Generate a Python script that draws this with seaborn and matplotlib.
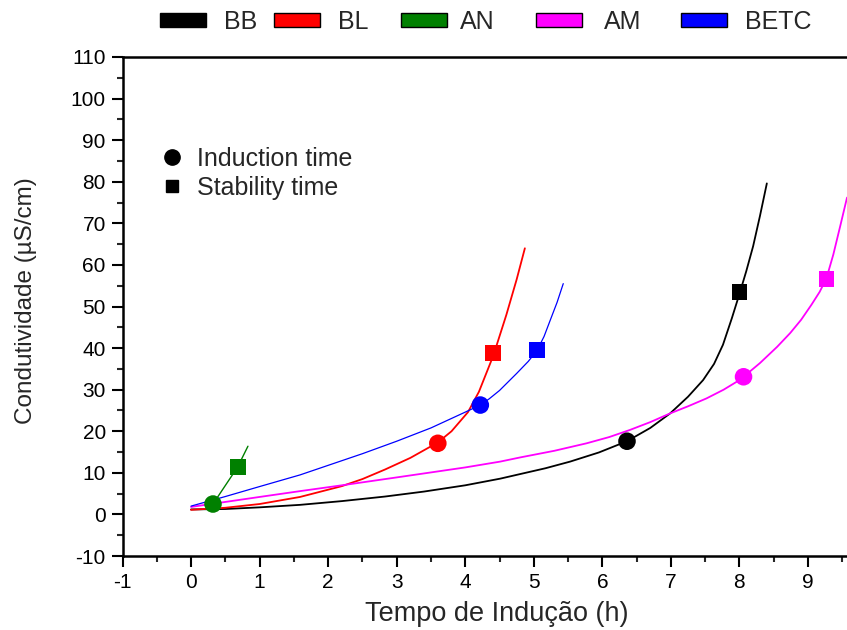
import matplotlib
matplotlib.use("Agg")
import matplotlib.pyplot as plt
import seaborn as sns
import pandas as pd
from matplotlib.patches import Patch
from matplotlib.lines import Line2D
from matplotlib.ticker import MultipleLocator

# ---- data ----
series_names = ["BB", "BL", "AN", "AM", "BETC"]
series_colors = ["#000000", "#ff0000", "#008000", "#ff00ff", "#0000ff"]

bb_x = [0.0, 0.5, 1.0, 1.59, 2.2, 2.83, 3.4, 4.0, 4.51, 4.8, 5.17, 5.53, 5.95, 6.36, 6.7, 6.99,
        7.25, 7.47, 7.63, 7.76, 7.89, 8.0, 8.1, 8.2, 8.3, 8.4]
bb_y = [1.2, 1.3, 1.7, 2.3, 3.2, 4.3, 5.5, 7.0, 8.6, 9.7, 11.1, 12.7, 14.9, 17.6, 20.8, 24.3,
        28.3, 32.3, 36.2, 40.8, 47.2, 53.0, 58.5, 64.5, 71.8, 79.6]

bl_x = [0.0, 0.5, 1.0, 1.59, 2.2, 2.5, 2.83, 3.2, 3.6, 3.8, 4.04, 4.2, 4.41, 4.6, 4.75, 4.87]
bl_y = [1.1, 1.6, 2.5, 4.2, 6.8, 8.5, 10.8, 13.6, 17.3, 20.0, 24.6, 29.5, 38.2, 48.0, 56.5, 64.0]

an_x = [0.32, 0.68, 0.83]
an_y = [2.5, 11.4, 16.4]

am_x = [0.0, 0.5, 1.0, 1.59, 2.2, 3.0, 4.0, 4.51, 4.8, 5.3, 5.77, 6.1, 6.4, 6.7, 6.99, 7.25,
        7.52, 7.77, 8.01, 8.3, 8.55, 8.74, 8.9, 9.05, 9.17, 9.27, 9.37, 9.47, 9.57]
am_y = [1.8, 3.0, 4.2, 5.6, 7.0, 8.9, 11.3, 12.7, 13.7, 15.3, 17.1, 18.6, 20.3, 22.2, 24.3, 26.0,
        27.9, 30.0, 32.4, 36.4, 40.3, 43.6, 46.8, 50.4, 53.5, 56.8, 62.5, 69.3, 76.2]

betc_x = [0.0, 0.5, 1.0, 1.59, 2.0, 2.5, 3.0, 3.5, 4.0, 4.22, 4.35, 4.5, 4.75, 4.92, 5.05, 5.15,
          5.24, 5.34, 5.43]
betc_y = [2.0, 4.3, 6.7, 9.5, 11.8, 14.6, 17.6, 20.8, 24.6, 26.3, 27.8, 29.8, 33.9, 36.8, 39.5,
          42.8, 46.7, 51.0, 55.5]

# induction (circle) and stability (square) points
induction_x = [6.36, 3.6, 0.32, 8.06, 4.22]
induction_y = [17.6, 17.1, 2.5, 33.1, 26.3]
stability_x = [8.0, 4.41, 0.68, 9.27, 5.05]
stability_y = [53.5, 38.9, 11.4, 56.6, 39.5]

x_ticks = list(range(-1, 10))
y_ticks = list(range(-10, 111, 10))

# ---- build tables ----
curves = pd.concat([
    pd.DataFrame({"x": bb_x, "y": bb_y, "s": "BB"}),
    pd.DataFrame({"x": bl_x, "y": bl_y, "s": "BL"}),
    pd.DataFrame({"x": an_x, "y": an_y, "s": "AN"}),
    pd.DataFrame({"x": am_x, "y": am_y, "s": "AM"}),
    pd.DataFrame({"x": betc_x, "y": betc_y, "s": "BETC"}),
], ignore_index=True)
ind = pd.DataFrame({"x": induction_x, "y": induction_y, "s": series_names})
stab = pd.DataFrame({"x": stability_x, "y": stability_y, "s": series_names})
palette = dict(zip(series_names, series_colors))
widths = {"BB": 1.3, "BL": 1.3, "AN": 1.0, "AM": 1.3, "BETC": 0.9}

sns.set_theme(style="white")
plt.rcParams["font.family"] = ["Liberation Sans", "DejaVu Sans"]
plt.rcParams["axes.unicode_minus"] = False

W, H = 847, 630
AX_L, AX_R, AX_T, AX_B = 122.5, 870.0, 57, 556
fig = plt.figure(figsize=(W / 100, H / 100), dpi=100)
ax = fig.add_axes([AX_L / W, (H - AX_B) / H, (AX_R - AX_L) / W, (AX_B - AX_T) / H])

for name in series_names:
    sub = curves[curves["s"] == name]
    sns.lineplot(data=sub, x="x", y="y", color=palette[name], sort=False,
                 estimator=None, lw=widths[name], ax=ax, legend=False)

sns.scatterplot(data=ind, x="x", y="y", hue="s", palette=palette, marker="o",
                s=160, linewidth=0, ax=ax, legend=False, zorder=5)
sns.scatterplot(data=stab, x="x", y="y", hue="s", palette=palette, marker="s",
                s=130, linewidth=0, ax=ax, legend=False, zorder=5)

ax.set_xlim(-1, 9.905)
ax.set_ylim(-10, 110)
ax.set_xticks(x_ticks)
ax.set_yticks(y_ticks)
ax.xaxis.set_minor_locator(MultipleLocator(0.5))
ax.yaxis.set_minor_locator(MultipleLocator(5))
ax.tick_params(which="major", direction="out", length=8, width=1.5,
               labelsize=15, colors="black", left=True, bottom=True, pad=4)
ax.tick_params(which="minor", direction="out", length=4, width=1.5,
               left=True, bottom=True)
for side in ["left", "bottom", "top"]:
    ax.spines[side].set_visible(True)
    ax.spines[side].set_linewidth(1.8)
    ax.spines[side].set_color("black")
ax.spines["right"].set_visible(False)
ax.set_xlabel("Tempo de Indução (h)", fontsize=19.5, labelpad=7)
ax.set_ylabel("Condutividade (µS/cm)", fontsize=17.5)
ax.yaxis.set_label_coords(-0.115, 0.512)

# top legend with color patches
legend_px = [160, 274, 401, 536, 681]
legend_gap = [0.7, 0.7, 0.5, 0.85, 0.7]
for name, px, gap in zip(series_names, legend_px, legend_gap):
    h = Patch(facecolor=palette[name], edgecolor="black", linewidth=1.0)
    fig.legend(handles=[h], labels=[name], loc="center left",
               bbox_to_anchor=(px / W, 1 - 22 / H), frameon=False,
               fontsize=18, handlelength=1.85, handleheight=0.5,
               handletextpad=gap, borderpad=0, borderaxespad=0)

# marker legend
mh = [Line2D([], [], ls="none", marker="o", color="black", markersize=11),
      Line2D([], [], ls="none", marker="s", color="black", markersize=9)]
fig.legend(handles=mh, labels=["Induction time", "Stability time"],
           loc="upper left", bbox_to_anchor=(162 / W, 1 - 147 / H),
           frameon=False, fontsize=18, handlelength=0.8, handletextpad=0.6,
           borderpad=0, borderaxespad=0, labelspacing=0.2)

fig.savefig("out.png", dpi=100)
